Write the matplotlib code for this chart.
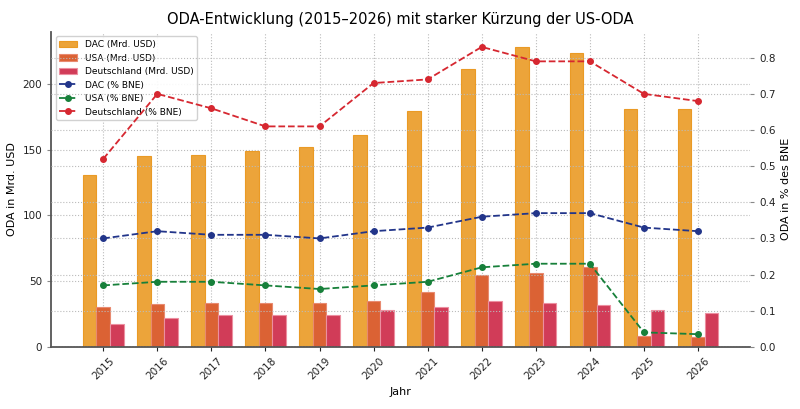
import matplotlib
matplotlib.use("Agg")
import matplotlib.pyplot as plt
import numpy as np

jahre = [2015, 2016, 2017, 2018, 2019, 2020, 2021, 2022, 2023, 2024, 2025, 2026]

# ODA in Mrd. USD
dac_usd = [131, 145, 146, 148.5, 152, 161, 179, 211, 228, 223, 180.5, 181]
usa_usd = [30, 32.5, 33.5, 33.5, 33.5, 35, 41.5, 54.5, 56, 61, 8, 7.5]
de_usd = [17, 22, 24.5, 24.5, 24.5, 28, 30, 34.5, 33.5, 31.5, 28, 26]

# ODA in % des BNE
dac_bne = [0.30, 0.32, 0.31, 0.31, 0.30, 0.32, 0.33, 0.36, 0.37, 0.37, 0.33, 0.32]
usa_bne = [0.17, 0.18, 0.18, 0.17, 0.16, 0.17, 0.18, 0.22, 0.23, 0.23, 0.04, 0.035]
de_bne = [0.52, 0.70, 0.66, 0.61, 0.61, 0.73, 0.74, 0.83, 0.79, 0.79, 0.70, 0.68]

x = np.array(jahre)
w = 0.25

fig, ax1 = plt.subplots(figsize=(8, 4.09), dpi=100)
ax2 = ax1.twinx()

b1 = ax1.bar(x - w, dac_usd, w, color="#eca43a", edgecolor="#ea9a25", linewidth=0.8, label="DAC (Mrd. USD)")
b2 = ax1.bar(x, usa_usd, w, color="#db6234", edgecolor="#e88a70", linewidth=0.8, label="USA (Mrd. USD)")
b3 = ax1.bar(x + w, de_usd, w, color="#d13c58", edgecolor="#ec8fa0", linewidth=0.8, label="Deutschland (Mrd. USD)")

l1, = ax2.plot(x, dac_bne, "--o", color="#22358a", ms=4, lw=1.3, label="DAC (% BNE)")
l2, = ax2.plot(x, usa_bne, "--o", color="#17803a", ms=4, lw=1.3, label="USA (% BNE)")
l3, = ax2.plot(x, de_bne, "--o", color="#d62730", ms=4, lw=1.3, label="Deutschland (% BNE)")

ax1.set_ylim(0, max(dac_usd) * 1.05)
ax2.set_ylim(0, max(de_bne) * 1.05)

for a in (ax1, ax2):
    a.grid(True, linestyle=":", color="#bbbbbb", linewidth=0.8)
    a.spines["top"].set_visible(False)
    a.spines["right"].set_visible(False)
    a.tick_params(labelsize=7.5, colors="#222222", length=3)
    a.tick_params(axis="y", color="#888888")
ax2.spines["left"].set_visible(False)
ax2.spines["bottom"].set_visible(False)
ax1.set_axisbelow(True)
for s in ("left", "bottom"):
    ax1.spines[s].set_color("#555555")
    ax1.spines[s].set_linewidth(1.3)

ax1.set_xticks(x)
ax1.set_xticklabels([str(j) for j in jahre], rotation=45)
ax1.set_xlabel("Jahr", fontsize=8)
ax1.set_ylabel("ODA in Mrd. USD", fontsize=8)
ax2.set_ylabel("ODA in % des BNE", fontsize=8)
ax1.set_title("ODA-Entwicklung (2015–2026) mit starker Kürzung der US-ODA", fontsize=10.5)

handles = [b1, b2, b3, l1, l2, l3]
ax1.legend(handles, [h.get_label() for h in handles], loc="upper left", fontsize=6.5, framealpha=0.9)

fig.subplots_adjust(left=0.064, right=0.9375, top=0.922, bottom=0.152)
fig.savefig("out.png", dpi=100)
